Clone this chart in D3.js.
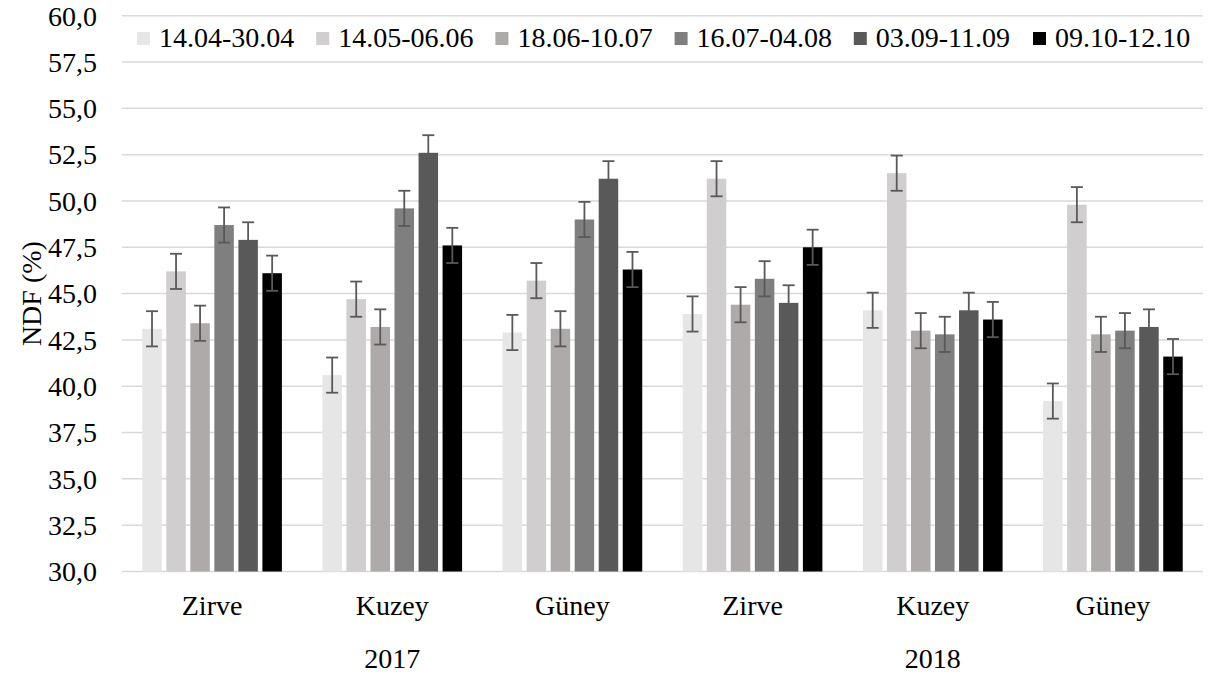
<!DOCTYPE html>
<html>
<head>
<meta charset="utf-8">
<script src="https://cdn.jsdelivr.net/npm/d3@7"></script>
<style>
  body { margin: 0; background: #fff; }
</style>
</head>
<body>
<script>
// periods (series) and their grey fills
var periods = ["14.04-30.04", "14.05-06.06", "18.06-10.07", "16.07-04.08", "03.09-11.09", "09.10-12.10"];
var periodColors = ["#e7e6e6", "#d0cece", "#aeaaaa", "#7f7f7f", "#595959", "#000000"];

// categories: aspect within year
var aspects = ["Zirve", "Kuzey", "Güney", "Zirve", "Kuzey", "Güney"];
var years = ["2017", "2018"];

// NDF (%) values, one array per period, one value per category
var p1 = [43.1, 40.6, 42.9, 43.9, 44.1, 39.2];
var p2 = [46.2, 44.7, 45.7, 51.2, 51.5, 49.8];
var p3 = [43.4, 43.2, 43.1, 44.4, 43.0, 42.8];
var p4 = [48.7, 49.6, 49.0, 45.8, 42.8, 43.0];
var p5 = [47.9, 52.6, 51.2, 44.5, 44.1, 43.2];
var p6 = [46.1, 47.6, 46.3, 47.5, 43.6, 41.6];
var errs = [0.95, 0.95, 0.95, 0.95, 0.95, 0.95];

var yTicks = [30, 32.5, 35, 37.5, 40, 42.5, 45, 47.5, 50, 52.5, 55, 57.5, 60];

var series = [p1, p2, p3, p4, p5, p6];

var width = 1211, height = 677;
var margin = {left: 122, right: 8, top: 15.7, bottom: 105.5};
var font = "\"Liberation Serif\"";
var fs = "28px";

var svg = d3.select("body").append("svg")
    .attr("width", width)
    .attr("height", height);

var x0 = d3.scaleBand()
    .domain(d3.range(aspects.length))
    .range([margin.left, width - margin.right]);

var x1 = d3.scaleBand()
    .domain(d3.range(periods.length))
    .range([18, x0.bandwidth() - 18]);

var y = d3.scaleLinear()
    .domain([30, 60])
    .range([height - margin.bottom, margin.top]);

// gridlines
svg.append("g")
    .selectAll("line")
    .data(yTicks)
    .join("line")
    .attr("x1", margin.left)
    .attr("x2", width - margin.right)
    .attr("y1", d => y(d))
    .attr("y2", d => y(d))
    .attr("stroke", "#d9d9d9")
    .attr("stroke-width", 1.5);

// y tick labels
svg.append("g")
    .selectAll("text")
    .data(yTicks)
    .join("text")
    .attr("x", 97)
    .attr("y", d => y(d))
    .attr("dy", "0.35em")
    .attr("text-anchor", "end")
    .style("font-family", font)
    .style("font-size", fs)
    .text(d => d3.format(".1f")(d).replace(".", ","));

// y axis title
svg.append("text")
    .attr("transform", "translate(41," + (margin.top + (y(30) - margin.top) / 2) + ") rotate(-90)")
    .attr("text-anchor", "middle")
    .style("font-family", font)
    .style("font-size", fs)
    .text("NDF (%)");

var barW = 19.5;

// bars + error bars
var groups = svg.append("g")
    .selectAll("g")
    .data(series)
    .join("g")
    .attr("fill", (d, i) => periodColors[i]);

groups.each(function(vals, si) {
  var g = d3.select(this);
  var cx = ci => x0(ci) + x1(si) + x1.bandwidth() / 2;
  g.selectAll("rect")
    .data(vals)
    .join("rect")
    .attr("x", (d, ci) => cx(ci) - barW / 2)
    .attr("width", barW)
    .attr("y", d => y(d))
    .attr("height", d => y(30) - y(d));

  var eb = g.selectAll("g.err")
    .data(vals)
    .join("g")
    .attr("class", "err")
    .attr("stroke", "#595959")
    .attr("stroke-width", 1.8)
    .attr("fill", "none");
  eb.append("line")
    .attr("x1", (d, ci) => cx(ci)).attr("x2", (d, ci) => cx(ci))
    .attr("y1", (d, ci) => y(d + errs[ci])).attr("y2", (d, ci) => y(d - errs[ci]));
  eb.append("line")
    .attr("x1", (d, ci) => cx(ci) - 6).attr("x2", (d, ci) => cx(ci) + 6)
    .attr("y1", (d, ci) => y(d + errs[ci])).attr("y2", (d, ci) => y(d + errs[ci]));
  eb.append("line")
    .attr("x1", (d, ci) => cx(ci) - 6).attr("x2", (d, ci) => cx(ci) + 6)
    .attr("y1", (d, ci) => y(d - errs[ci])).attr("y2", (d, ci) => y(d - errs[ci]));
});

// category labels
svg.append("g")
    .selectAll("text")
    .data(aspects)
    .join("text")
    .attr("x", (d, i) => x0(i) + x0.bandwidth() / 2)
    .attr("y", 615)
    .attr("text-anchor", "middle")
    .style("font-family", font)
    .style("font-size", fs)
    .text(d => d);

// year labels (each spans three categories)
svg.append("g")
    .selectAll("text")
    .data(years)
    .join("text")
    .attr("x", (d, i) => x0(i * 3) + x0.bandwidth() * 1.5)
    .attr("y", 668)
    .attr("text-anchor", "middle")
    .style("font-family", font)
    .style("font-size", fs)
    .text(d => d);

// legend
var legendX0 = 137, legendStep = 179.2;
var leg = svg.append("g")
    .selectAll("g")
    .data(periods)
    .join("g")
    .attr("transform", (d, i) => "translate(" + (legendX0 + i * legendStep) + ",0)");
leg.append("rect")
    .attr("x", 0).attr("y", 32)
    .attr("width", 13).attr("height", 13)
    .attr("fill", (d, i) => periodColors[i]);
leg.append("text")
    .attr("x", 22).attr("y", 46.5)
    .style("font-family", font)
    .style("font-size", fs)
    .text(d => d);
</script>
</body>
</html>
